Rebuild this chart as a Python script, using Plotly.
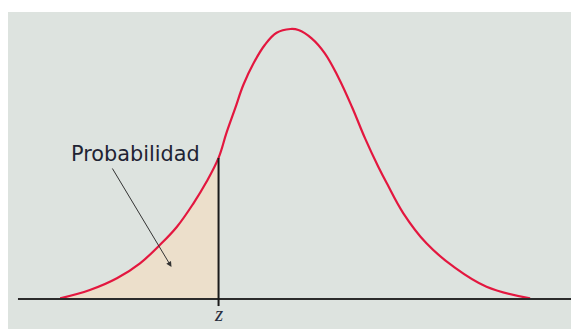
import plotly.graph_objects as go

# Curve (x in z units, y density)
curve_x = [-3.49, -3.04, -2.63, -2.28, -1.98, -1.72, -1.47, -1.27, -1.09, -0.97, -0.84, -0.715,
           -0.56, -0.39, -0.21, 0.00, 0.12, 0.32, 0.52, 0.72, 0.93, 1.13, 1.33, 1.46, 1.71,
           2.06, 2.47, 2.97, 3.63]
curve_y = [0.0010, 0.0133, 0.0307, 0.0529, 0.0800, 0.1071, 0.1418, 0.1740, 0.2090, 0.2460, 0.2820, 0.3170,
           0.3492, 0.3763, 0.3945, 0.4000, 0.3985, 0.3862, 0.3640, 0.3293, 0.2849, 0.2380, 0.1960, 0.1714, 0.1270,
           0.0825, 0.0479, 0.0182, 0.0010]
z_value = -1.09
z_label = "z"
area_label = "Probabilidad"

panel = "#dde3df"
red = "#e3173f"
dark = "#2b2b2b"

XR = [-4.280, 4.371]
YR = [-0.0444, 0.4252]

n_fill = curve_x.index(z_value) + 1
z_top = curve_y[n_fill - 1]

fig = go.Figure()
fig.add_trace(go.Scatter(
    x=curve_x[:n_fill], y=curve_y[:n_fill], mode="lines",
    line=dict(width=0, shape="spline", smoothing=1.1, color="rgba(0,0,0,0)"),
    fill="tozeroy", fillcolor="#ecdfcb", hoverinfo="skip", showlegend=False))

# baseline
fig.add_shape(type="line", x0=-4.129, x1=XR[1], y0=0, y1=0,
              line=dict(color=dark, width=2), layer="above")
# z line with tick
fig.add_shape(type="line", x0=z_value, x1=z_value, y0=-0.0104, y1=z_top,
              line=dict(color="#1a1a1a", width=2), layer="above")

fig.add_trace(go.Scatter(
    x=curve_x, y=curve_y, mode="lines",
    line=dict(width=2.2, shape="spline", smoothing=1.1, color=red),
    hoverinfo="skip", showlegend=False))

fig.add_annotation(x=-3.36, y=0.2148, xref="x", yref="y", text=area_label,
                   showarrow=False, xanchor="left", yanchor="middle",
                   font=dict(family="DejaVu Sans", size=20.8, color="#1f2333"))
fig.add_annotation(x=-1.803, y=0.0474, ax=-2.712, ay=0.1956, xref="x", yref="y",
                   axref="x", ayref="y", text="", showarrow=True,
                   arrowhead=2, arrowsize=1.1, arrowwidth=1, arrowcolor="#333333")
fig.add_annotation(x=z_value, y=-0.0215, xref="x", yref="y", text="<i>" + z_label + "</i>",
                   showarrow=False, xanchor="center", yanchor="middle",
                   font=dict(family="Liberation Serif", size=21, color="#2a2f3f"))

# the page places the figure 8px in from the window's top-left corner
fig.update_layout(
    width=571, height=321,
    margin=dict(l=0, r=0, t=4, b=0),
    paper_bgcolor="white", plot_bgcolor=panel,
    xaxis=dict(range=XR, visible=False, fixedrange=True),
    yaxis=dict(range=YR, visible=False, fixedrange=True),
)
fig.write_html("out.html")
